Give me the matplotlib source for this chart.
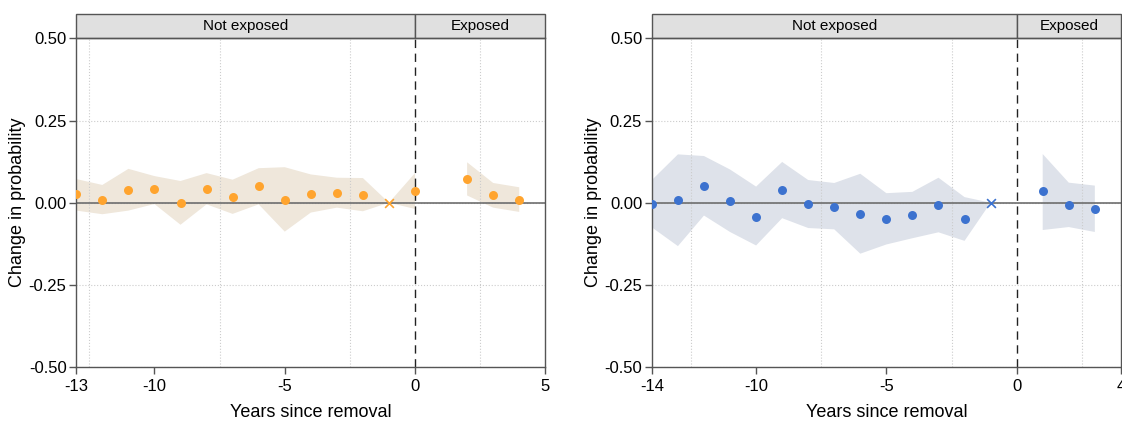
import numpy as np
import matplotlib.pyplot as plt
from matplotlib.patches import Rectangle

plt.rcParams['font.family'] = ['Liberation Sans', 'DejaVu Sans']
plt.rcParams['axes.unicode_minus'] = False

# Left panel (orange)
years_l = [-13, -12, -11, -10, -9, -8, -7, -6, -5, -4, -3, -2, -1, 0, 1, 2, 3, 4]
est_l = [0.027, 0.008, 0.040, 0.041, -0.001, 0.043, 0.017, 0.052, 0.008, 0.027,
         0.029, 0.024, 0.0, 0.037, np.nan, 0.072, 0.022, 0.008]
hi_l = [0.072, 0.054, 0.103, 0.081, 0.066, 0.090, 0.070, 0.105, 0.108, 0.086,
        0.076, 0.075, 0.0, 0.090, np.nan, 0.123, 0.060, 0.047]
lo_l = [-0.024, -0.035, -0.024, -0.004, -0.067, -0.005, -0.034, -0.005, -0.088, -0.030,
        -0.015, -0.026, 0.0, -0.019, np.nan, 0.022, -0.015, -0.028]

# Right panel (blue)
years_r = [-14, -13, -12, -11, -10, -9, -8, -7, -6, -5, -4, -3, -2, -1, 0, 1, 2, 3]
est_r = [-0.004, 0.008, 0.052, 0.004, -0.042, 0.040, -0.003, -0.014, -0.034, -0.049,
         -0.038, -0.007, -0.050, 0.0, np.nan, 0.035, -0.007, -0.020]
hi_r = [0.069, 0.147, 0.142, 0.101, 0.049, 0.124, 0.069, 0.060, 0.088, 0.029,
        0.033, 0.076, 0.017, 0.0, np.nan, 0.148, 0.061, 0.052]
lo_r = [-0.075, -0.132, -0.039, -0.089, -0.130, -0.047, -0.077, -0.081, -0.155, -0.127,
        -0.108, -0.090, -0.116, 0.0, np.nan, -0.083, -0.074, -0.089]

strips = ["Not exposed", "Exposed"]
yticks = [-0.5, -0.25, 0, 0.25, 0.5]


def panel(ax, years, est, lo, hi, xmin, xmax, dot, band):
    years = np.array(years, dtype=float)
    est = np.array(est, dtype=float)
    ax.fill_between(years, lo, hi, color=band, lw=0, zorder=1)
    ax.axhline(0, color='#6e6e6e', lw=1.2, zorder=2)
    ax.axvline(0, color='#222222', lw=1, ls=(0, (6, 4)), zorder=2)
    ref = years == -1
    pts = ~ref & ~np.isnan(est)
    ax.scatter(years[pts], est[pts], s=42, color=dot, lw=0, zorder=3)
    ax.scatter(years[ref], est[ref], s=40, marker='x', color=dot, lw=1.2, zorder=3)

    ax.set_xlim(xmin, xmax)
    ax.set_ylim(-0.5, 0.5)
    ax.set_xticks([xmin, -10, -5, 0, xmax])
    ax.set_xticks(np.arange(-12.5, xmax, 2.5), minor=True)
    ax.set_yticks(yticks)
    ax.set_yticklabels(['{:.2f}'.format(v) for v in yticks])
    ax.tick_params(which='minor', length=0)
    ax.tick_params(which='major', length=5, width=1, color='#555555', labelsize=12)
    ax.tick_params(axis='y', pad=2)
    ax.grid(True, which='minor', axis='x', color='#cccccc', ls=':', lw=0.8)
    ax.grid(True, which='major', axis='y', color='#cccccc', ls=':', lw=0.8)
    for s in ax.spines.values():
        s.set_color('#555555')
        s.set_linewidth(1)
    ax.set_xlabel("Years since removal", fontsize=13, labelpad=7)
    ax.set_ylabel("Change in probability", fontsize=13, labelpad=2)

    # facet strips on top
    tr = ax.get_xaxis_transform()
    hgt = 0.073
    for (a, b), label in zip([(xmin, 0), (0, xmax)], strips):
        ax.add_patch(Rectangle((a, 1.0), b - a, hgt, transform=tr, clip_on=False,
                               facecolor='#e0e0e0', edgecolor='#555555', lw=1))
        ax.text((a + b) / 2, 1.0 + hgt / 2, label, transform=tr, ha='center',
                va='center', fontsize=11)


fig = plt.figure(figsize=(11.22, 4.21), dpi=100)
ax1 = fig.add_axes([0.068, 0.128, 0.418, 0.781])
ax2 = fig.add_axes([0.581, 0.128, 0.418, 0.781])

panel(ax1, years_l, est_l, lo_l, hi_l, -13, 5, '#ffa42e', '#efe7db')
panel(ax2, years_r, est_r, lo_r, hi_r, -14, 4, '#3c72cf', '#dee2ea')

fig.savefig('out.png', dpi=100)
